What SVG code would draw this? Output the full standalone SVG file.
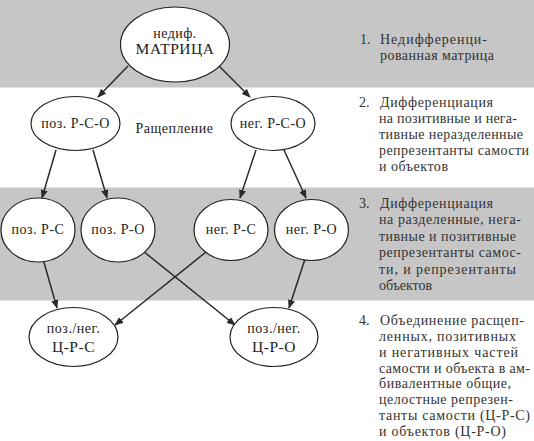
<svg xmlns="http://www.w3.org/2000/svg" width="534" height="441" viewBox="0 0 534 441">
<style>
.band{fill:#c6c6c6}
.node ellipse{fill:#fff;stroke:#222;stroke-width:1.2}
.lbl{font-family:"Liberation Serif","DejaVu Serif",serif;font-size:14px;fill:#222;text-anchor:middle;letter-spacing:0.5px}
.big{font-size:15.5px}
.note{font-family:"Liberation Serif","DejaVu Serif",serif;font-size:14px;fill:#333}
.conn line{stroke:#2a2a2a;stroke-width:1.5;fill:none;marker-end:url(#ah)}
</style>
<defs>
<marker id="ah" viewBox="0 0 10 8" refX="9" refY="4" markerWidth="9" markerHeight="7.2" markerUnits="userSpaceOnUse" orient="auto">
<path d="M0,0 L10,4 L0,8 z" fill="#2a2a2a"/>
</marker>
</defs>
<rect width="534" height="441" fill="#fff"/>
<rect class="band" x="0" y="0" width="534" height="87.5"/>
<rect class="band" x="0" y="187.5" width="534" height="113"/>

<g id="connectors" class="conn">
<line x1="128" y1="66" x2="98" y2="97"/>
<line x1="219" y1="66" x2="250" y2="97"/>
<line x1="56" y1="150" x2="42" y2="198"/>
<line x1="93" y1="150" x2="107" y2="198"/>
<line x1="256" y1="150" x2="240" y2="198"/>
<line x1="284" y1="150" x2="306" y2="198"/>
<line x1="43" y1="259" x2="57" y2="308"/>
<line x1="305" y1="259" x2="289" y2="308"/>
<line x1="143" y1="251" x2="235" y2="325"/>
<line x1="206" y1="252" x2="115" y2="325"/>
</g>

<g id="n-matrix" class="node">
<ellipse cx="175" cy="44.5" rx="54.5" ry="37.5"/>
<text class="lbl" x="175" y="38">недиф.</text>
<text class="lbl big" x="175" y="54">МАТРИЦА</text>
</g>
<g id="n-pos-rso" class="node">
<ellipse cx="75.5" cy="123.5" rx="44.5" ry="27"/>
<text class="lbl" x="75.5" y="128">поз. Р-С-О</text>
</g>
<g id="n-neg-rso" class="node">
<ellipse cx="273" cy="123.5" rx="42" ry="27"/>
<text class="lbl" x="273" y="128">нег. Р-С-О</text>
</g>
<text class="lbl" x="174.5" y="133">Ращепление</text>

<g id="n-pos-rs" class="node">
<ellipse cx="38" cy="230" rx="37" ry="32"/>
<text class="lbl" x="38" y="234">поз. Р-С</text>
</g>
<g id="n-pos-ro" class="node">
<ellipse cx="118" cy="230" rx="37" ry="32"/>
<text class="lbl" x="118" y="234">поз. Р-О</text>
</g>
<g id="n-neg-rs" class="node">
<ellipse cx="231" cy="230" rx="37" ry="30.5"/>
<text class="lbl" x="231" y="234">нег. Р-С</text>
</g>
<g id="n-neg-ro" class="node">
<ellipse cx="311.5" cy="230" rx="37" ry="30.5"/>
<text class="lbl" x="311.5" y="234">нег. Р-О</text>
</g>

<g id="n-crs" class="node">
<ellipse cx="73.5" cy="337" rx="44.5" ry="29.5"/>
<text class="lbl" x="73.5" y="333">поз./нег.</text>
<text class="lbl big" x="73.5" y="352">Ц-Р-С</text>
</g>
<g id="n-cro" class="node">
<ellipse cx="274" cy="337" rx="44" ry="29.5"/>
<text class="lbl" x="274" y="333">поз./нег.</text>
<text class="lbl big" x="274" y="352">Ц-Р-О</text>
</g>

<g id="notes" class="note">
<text x="360" y="44">1.</text>
<text x="380" y="44" textLength="107" lengthAdjust="spacing">Недифференци-</text>
<text x="380" y="60" textLength="114" lengthAdjust="spacing">рованная матрица</text>

<text x="359" y="107">2.</text>
<text x="380" y="107" textLength="113" lengthAdjust="spacing">Дифференциация</text>
<text x="379" y="123" textLength="138" lengthAdjust="spacing">на позитивные и нега-</text>
<text x="379" y="139" textLength="144" lengthAdjust="spacing">тивные неразделенные</text>
<text x="379" y="155" textLength="150" lengthAdjust="spacing">репрезентанты самости</text>
<text x="379" y="171" textLength="69" lengthAdjust="spacing">и объектов</text>

<text x="359" y="207.5">3.</text>
<text x="380" y="207.5" textLength="113" lengthAdjust="spacing">Дифференциация</text>
<text x="379" y="224" textLength="142" lengthAdjust="spacing">на разделенные, нега-</text>
<text x="379" y="240.5" textLength="137" lengthAdjust="spacing">тивные и позитивные</text>
<text x="379" y="257" textLength="142" lengthAdjust="spacing">репрезентанты самос-</text>
<text x="379" y="273.5" textLength="137" lengthAdjust="spacing">ти, и репрезентанты</text>
<text x="379" y="290" textLength="53" lengthAdjust="spacing">объектов</text>

<text x="359" y="325">4.</text>
<text x="380" y="325" textLength="144" lengthAdjust="spacing">Объединение расщеп-</text>
<text x="379" y="341" textLength="137" lengthAdjust="spacing">ленных, позитивных</text>
<text x="379" y="357" textLength="139" lengthAdjust="spacing">и негативных частей</text>
<text x="379" y="372.5" textLength="151" lengthAdjust="spacing">самости и объекта в ам-</text>
<text x="379" y="388" textLength="132" lengthAdjust="spacing">бивалентные общие,</text>
<text x="379" y="404" textLength="134" lengthAdjust="spacing">целостные репрезен-</text>
<text x="379" y="420" textLength="151" lengthAdjust="spacing">танты самости (Ц-Р-С)</text>
<text x="379" y="436" textLength="127" lengthAdjust="spacing">и объектов (Ц-Р-О)</text>
</g>
</svg>
